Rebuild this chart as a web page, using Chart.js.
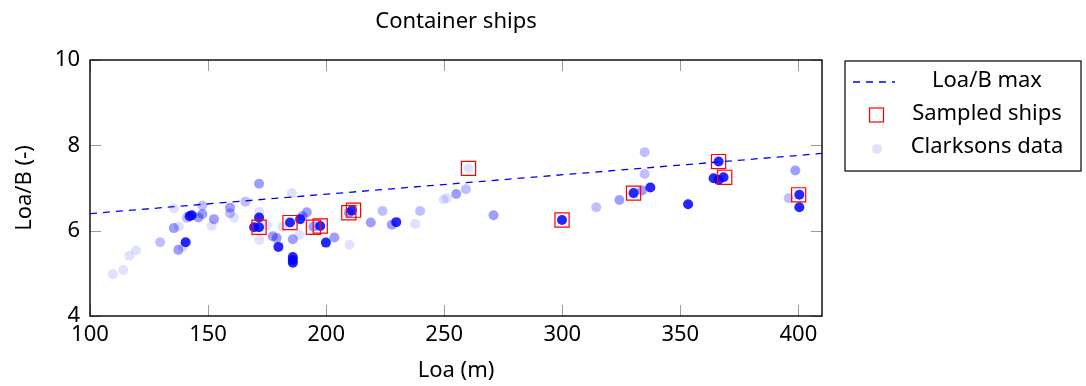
<!DOCTYPE html>
<html>
<head>
<meta charset="utf-8">
<script src="https://cdn.jsdelivr.net/npm/chart.js@4.4.0/dist/chart.umd.min.js"></script>
<style>
  html, body { margin: 0; padding: 0; background: #fff; }
  #wrap { width: 1086px; height: 386px; }
</style>
</head>
<body>
<div id="wrap"><canvas id="shipChart"></canvas></div>
<script>
// Loa/B max line
const maxLoa = [100, 410];
const maxRatio = [6.40, 7.81];

// sampled ships (red squares)
const sampledLoa   = [171.6, 184.7, 194.6, 197.5, 209.6, 211.6, 260.3, 299.9, 330.2, 366.2, 368.8, 400.1];
const sampledRatio = [6.08, 6.19, 6.08, 6.11, 6.42, 6.48, 7.46, 6.25, 6.88, 7.62, 7.25, 6.84];

// Clarksons data, grouped by how dense the dots look
const paleLoa   = [109.6, 114.1, 116.7, 119.5, 137.6, 135.6, 139.3, 151.5, 161.0, 171.7, 171.7, 174.9, 181.5, 185.5, 188.7, 209.9, 237.7, 249.7, 251.1, 260.3];
const paleRatio = [4.98, 5.08, 5.41, 5.54, 6.10, 6.52, 5.61, 6.11, 6.31, 6.44, 5.78, 6.13, 6.09, 6.88, 5.90, 5.67, 6.16, 6.73, 6.76, 7.46];

const lightLoa   = [129.7, 141.0, 147.6, 159.3, 165.8, 223.9, 239.8, 259.2, 314.4, 334.9, 334.9, 395.9];
const lightRatio = [5.73, 6.30, 6.59, 6.41, 6.68, 6.46, 6.46, 6.97, 6.55, 7.84, 7.33, 6.76];

const midLoa   = [135.5, 137.4, 145.9, 147.6, 152.5, 159.3, 171.6, 177.4, 179.1, 185.9, 190.0, 191.8, 194.6, 203.5, 209.6, 218.9, 227.8, 255.1, 270.9, 324.2, 333.8, 398.7];
const midRatio = [6.06, 5.55, 6.31, 6.39, 6.27, 6.54, 7.10, 5.87, 5.83, 5.80, 6.34, 6.43, 6.09, 5.84, 6.42, 6.19, 6.14, 6.86, 6.36, 6.72, 6.94, 7.41];

const darkLoa   = [140.5, 142.2, 143.1, 171.6, 171.6, 169.5, 179.8, 184.7, 189.0, 185.9, 185.9, 185.9, 197.5, 199.9, 210.9, 229.7, 299.9, 330.2, 337.3, 353.3, 366.2, 364.1, 366.2, 368.3, 400.4, 400.4];
const darkRatio = [5.73, 6.34, 6.36, 6.31, 6.08, 6.08, 5.62, 6.19, 6.27, 5.38, 5.31, 5.25, 6.11, 5.72, 6.47, 6.20, 6.25, 6.88, 7.01, 6.62, 7.62, 7.23, 7.19, 7.25, 6.84, 6.55];

const xTicks = [100, 150, 200, 250, 300, 350, 400];
const yTicks = [4, 6, 8, 10];

const FONT = '"Noto Sans", sans-serif';

function pts(xs, ys) {
    return xs.map((x, i) => ({ x: x, y: ys[i] }));
}

function dots(data, alpha) {
    return {
        type: 'scatter',
        data: data,
        backgroundColor: `rgba(0, 0, 255, ${alpha})`,
        borderWidth: 0,
        pointRadius: 5,
        pointHoverRadius: 5
    };
}

// frame, inward ticks, title, axis titles and the legend box
const decorations = {
    id: 'decorations',
    afterDraw(chart) {
        const ctx = chart.ctx;
        const a = chart.chartArea;
        const xs = chart.scales.x, ys = chart.scales.y;
        ctx.save();

        ctx.strokeStyle = '#9a9a9a';
        ctx.lineWidth = 1;
        ctx.beginPath();
        xTicks.forEach(v => {
            const px = Math.round(xs.getPixelForValue(v)) + 0.5;
            ctx.moveTo(px, a.bottom); ctx.lineTo(px, a.bottom - 11);
            ctx.moveTo(px, a.top); ctx.lineTo(px, a.top + 11);
        });
        yTicks.forEach(v => {
            const py = Math.round(ys.getPixelForValue(v)) + 0.5;
            ctx.moveTo(a.left, py); ctx.lineTo(a.left + 11, py);
            ctx.moveTo(a.right, py); ctx.lineTo(a.right - 11, py);
        });
        ctx.stroke();

        ctx.strokeStyle = '#000';
        ctx.lineWidth = 1.4;
        ctx.strokeRect(a.left, a.top, a.right - a.left, a.bottom - a.top);

        ctx.fillStyle = '#000';
        ctx.font = '22px ' + FONT;
        ctx.textAlign = 'center';
        ctx.textBaseline = 'middle';
        ctx.fillText('Container ships', (a.left + a.right) / 2, 22);
        ctx.fillText('Loa (m)', (a.left + a.right) / 2, 371);
        ctx.save();
        ctx.translate(25, (a.top + a.bottom) / 2);
        ctx.rotate(-Math.PI / 2);
        ctx.fillText('Loa/B (-)', 0, 0);
        ctx.restore();

        // legend
        const lx = 845, ly = 61, lw = 236, lh = 110;
        ctx.fillStyle = '#fff';
        ctx.fillRect(lx, ly, lw, lh);
        ctx.strokeStyle = '#000';
        ctx.lineWidth = 1.2;
        ctx.strokeRect(lx, ly, lw, lh);

        const rows = [81, 114, 147];
        ctx.strokeStyle = '#0000ff';
        ctx.lineWidth = 1.3;
        ctx.setLineDash([7, 6]);
        ctx.beginPath();
        ctx.moveTo(853, rows[0] + 1); ctx.lineTo(895, rows[0] + 1);
        ctx.stroke();
        ctx.setLineDash([]);

        ctx.strokeStyle = '#ff0000';
        ctx.lineWidth = 1.2;
        ctx.strokeRect(869.5, rows[1] - 6, 14, 14);

        ctx.fillStyle = 'rgba(0, 0, 255, 0.12)';
        ctx.beginPath();
        ctx.arc(877, rows[2] + 2, 5, 0, Math.PI * 2);
        ctx.fill();

        ctx.fillStyle = '#000';
        ctx.font = '22px ' + FONT;
        ctx.fillText('Loa/B max', 987, rows[0]);
        ctx.fillText('Sampled ships', 987, rows[1]);
        ctx.fillText('Clarksons data', 987, rows[2]);
        ctx.restore();
    }
};

const ctx = document.getElementById('shipChart').getContext('2d');

new Chart(ctx, {
    data: {
        datasets: [
            {
                type: 'line',
                label: 'Loa/B max',
                data: pts(maxLoa, maxRatio),
                borderColor: '#0000ff',
                borderWidth: 1.3,
                borderDash: [7, 6],
                pointRadius: 0,
                fill: false
            },
            {
                type: 'scatter',
                label: 'Sampled ships',
                data: pts(sampledLoa, sampledRatio),
                pointStyle: 'rect',
                pointRadius: 10,
                pointHoverRadius: 10,
                borderColor: '#ff0000',
                borderWidth: 1.2,
                backgroundColor: 'rgba(0, 0, 0, 0)'
            },
            Object.assign(dots(pts(darkLoa, darkRatio), 0.85), { label: 'Clarksons data' }),
            Object.assign(dots(pts(midLoa, midRatio), 0.38), { label: 'Clarksons data' }),
            Object.assign(dots(pts(lightLoa, lightRatio), 0.25), { label: 'Clarksons data' }),
            Object.assign(dots(pts(paleLoa, paleRatio), 0.12), { label: 'Clarksons data' })
        ]
    },
    options: {
        responsive: true,
        maintainAspectRatio: false,
        animation: false,
        layout: {
            padding: { left: 0, right: 264, top: 60, bottom: 0 }
        },
        plugins: {
            legend: { display: false },
            title: { display: false },
            tooltip: { enabled: false }
        },
        scales: {
            x: {
                type: 'linear',
                min: 100,
                max: 410,
                afterBuildTicks: s => { s.ticks = xTicks.map(v => ({ value: v })); },
                afterFit: s => { s.height = 70; },
                grid: { display: false, drawTicks: false },
                border: { display: false },
                ticks: {
                    color: '#000',
                    padding: 6,
                    maxRotation: 0,
                    autoSkip: false,
                    font: { family: FONT, size: 22 }
                }
            },
            y: {
                type: 'linear',
                min: 4,
                max: 10,
                afterBuildTicks: s => { s.ticks = yTicks.map(v => ({ value: v })); },
                afterFit: s => { s.width = 90; },
                grid: { display: false, drawTicks: false },
                border: { display: false },
                ticks: {
                    color: '#000',
                    padding: 10,
                    font: { family: FONT, size: 22 }
                }
            }
        }
    },
    plugins: [decorations]
});
</script>
</body>
</html>
